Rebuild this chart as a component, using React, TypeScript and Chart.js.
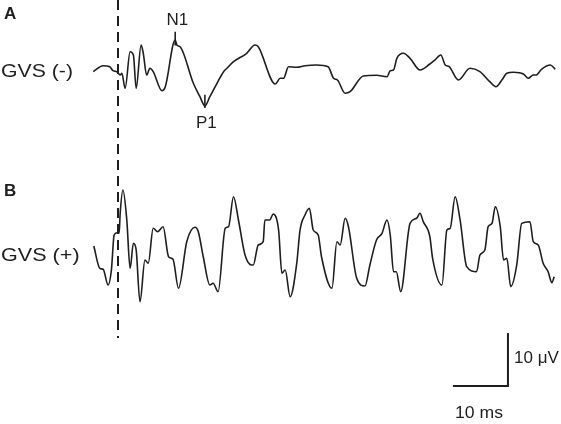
import React, { useEffect, useRef } from "react";
import { Chart, registerables } from "chart.js";

Chart.register(...registerables);

// Trace A: GVS (-) — time (ms, 0 = stimulus) and amplitude (µV, plotted upward)
const gvsNegTime = [
  -4.5, -2.7, -1.5, -0.9, -0.2, 0.4, 0.7, 1.3, 2.2, 2.8,
  3.3, 4.2, 4.6, 5.2, 5.8, 6.4, 8.0, 8.6, 10.4, 10.7,
  11.3, 13.7, 14.9, 15.8, 16.7, 18.0, 19.2, 19.8, 21.0, 23.4,
  24.9, 25.5, 28.6, 29.5, 30.1, 31.0, 32.5, 34.0, 36.1, 38.2,
  39.2, 39.9, 41.3, 42.2, 44.6, 47.0, 48.9, 49.5, 50.1, 50.7,
  51.9, 53.1, 54.9, 56.7, 57.6, 58.7, 59.5, 60.2, 61.9, 64.0,
  65.8, 67.6, 68.7, 69.8, 70.7, 71.9, 73.7, 74.6, 75.5, 76.0,
  77.0, 78.6, 79.5,
];
const gvsNegAmp = [
  0.06, 1.19, 1.0, 0.25, 0.06, -0.57, -0.25, -3.08, 3.83, 3.21,
  -3.08, 5.09, 3.53, -0.57, 0.7, 0.06, -3.53, -2.77, 6.04, 5.09,
  4.77, -2.13, -4.66, -6.42, -4.66, -2.13, 0.06, 0.7, 1.94, 3.53,
  5.09, 4.77, -2.26, -1.19, -1.19, 1.0, 0.89, 1.19, 1.32, 1.0,
  -1.19, -1.51, -4.02, -3.72, -0.75, -0.62, -0.89, 0.25, 0.38, 2.58,
  3.53, 2.58, 0.38, 1.51, 2.26, 3.21, 1.32, 1.0, -1.51, 0.7,
  0.06, -1.83, -2.77, -1.51, -0.25, -0.06, -0.38, -1.19, -0.57, -0.57,
  0.51, 1.32, 0.51,
];

// Trace B: GVS (+)
const gvsPosTime = [
  -4.4, -3.3, -2.7, -1.8, -1.2, -0.7, -0.2, 0.2, 0.4, 0.9,
  1.6, 2.2, 2.8, 3.3, 4.0, 4.9, 5.5, 6.4, 7.2, 8.2,
  9.2, 10.0, 11.0, 12.5, 14.0, 14.6, 15.5, 16.7, 17.3, 18.2,
  19.5, 20.1, 21.0, 21.9, 23.1, 24.3, 24.6, 25.5, 26.4, 26.7,
  27.6, 28.2, 29.2, 29.8, 30.4, 31.3, 32.5, 33.1, 34.0, 34.8,
  35.5, 36.4, 37.0, 38.9, 39.8, 40.4, 41.3, 41.9, 43.4, 44.9,
  45.8, 47.0, 48.0, 48.9, 49.5, 50.1, 50.6, 51.4, 53.1, 54.3,
  54.9, 55.5, 56.7, 57.2, 58.9, 59.8, 60.4, 61.3, 62.2, 63.4,
  65.2, 65.8, 66.7, 67.3, 68.0, 68.6, 69.5, 70.1, 70.7, 71.4,
  72.5, 73.4, 74.9, 75.5, 76.4, 77.3, 78.2, 78.9, 79.3,
];
const gvsPosAmp = [
  -0.19, -4.4, -4.58, -7.55, -4.72, 1.89, 2.32, 2.21, 6.04, 10.38,
  4.72, -4.4, 0.32, -0.94, -10.7, -2.83, -3.45, 3.15, 2.51, 3.45,
  -2.21, -2.7, -8.17, 0.62, 3.34, 2.51, -2.21, -7.55, -7.23, -8.81,
  3.15, 3.45, 9.11, 4.72, -1.89, -3.77, -3.77, 0, 0.62, 4.72,
  4.72, 5.85, 2.83, -5.34, -4.72, -9.75, -3.45, 2.83, 5.66, 6.92,
  2.83, 1.89, -2.21, -8.17, 0.62, 0, 5.04, 3.45, -6.28, -7.74,
  -3.77, 0.94, 2.21, 4.72, 1.89, -5.04, -5.04, -8.81, 4.09, 5.04,
  5.98, 4.4, 1.57, -2.51, -7.55, 2.83, 3.15, 9.11, 4.72, -4.09,
  -5.04, -1.89, -0.94, 3.45, 4.09, 7.23, 3.45, -2.83, -2.51, -7.87,
  -3.77, 4.09, 4.4, 0.62, 0, -3.45, -5.04, -7.11, -5.98,
];

// Component markers on trace A (N1, P1): time and tick extent in µV
const markerNames = ["N1", "P1"];
const markerTime = [10.4, 15.8];
const markerTop = [7.6, -4.3];
const markerBottom = [5.0, -6.8];

// Scale bar values
const scaleBarMs = 10;
const scaleBarUv = 10;

const PX_PER_MS = 5.5;
const PX_PER_UV = 5.3;
const W = 561;
const H = 424;
const X0_PX = 118;
const X_MIN = -X0_PX / PX_PER_MS;
const X_MAX = X_MIN + W / PX_PER_MS;
const Y_MAX = 0;
const Y_MIN = -H / PX_PER_UV;
const OFFSET_A = -72 / PX_PER_UV;
const OFFSET_B = -245 / PX_PER_UV;
const DASH_END = -338 / PX_PER_UV;
const BAR_X = 60.9;
const BAR_Y = -386 / PX_PER_UV;

const INK = "#1e1e1e";

function Label(props: {
  left: number;
  capTop: number;
  size: number;
  text: string;
  bold?: boolean;
  sx?: number;
}) {
  const { left, capTop, size, text, bold, sx = 1 } = props;
  return (
    <div
      style={{
        position: "absolute",
        left,
        top: capTop - 0.12 * size,
        fontSize: size,
        lineHeight: 1,
        fontWeight: bold ? 700 : 400,
        whiteSpace: "nowrap",
        transform: `scaleX(${sx})`,
        transformOrigin: "left top",
      }}
    >
      {text}
    </div>
  );
}

export default function App() {
  const ref = useRef<HTMLCanvasElement | null>(null);

  useEffect(() => {
    if (!ref.current) return;
    const traceA = gvsNegTime.map((t, i) => ({ x: t, y: gvsNegAmp[i] + OFFSET_A }));
    const traceB = gvsPosTime.map((t, i) => ({ x: t, y: gvsPosAmp[i] + OFFSET_B }));
    const line = (data: { x: number; y: number }[], width: number, dash: number[] = []) => ({
      data,
      borderColor: INK,
      borderWidth: width,
      borderDash: dash,
      pointRadius: 0,
      fill: false,
      tension: 0,
      showLine: true,
    });
    const markerSets = markerNames.map((_, i) =>
      line(
        [
          { x: markerTime[i], y: markerTop[i] + OFFSET_A },
          { x: markerTime[i], y: markerBottom[i] + OFFSET_A },
        ],
        1.6
      )
    );
    const chart = new Chart(ref.current, {
      type: "line",
      data: {
        datasets: [
          line(
            [
              { x: 0, y: Y_MAX },
              { x: 0, y: DASH_END },
            ],
            2,
            [10, 6]
          ),
          { ...line(traceA, 1.6), cubicInterpolationMode: "monotone" },
          { ...line(traceB, 1.6), cubicInterpolationMode: "monotone" },
          ...markerSets,
          line(
            [
              { x: BAR_X, y: BAR_Y },
              { x: BAR_X + scaleBarMs, y: BAR_Y },
              { x: BAR_X + scaleBarMs, y: BAR_Y + scaleBarUv },
            ],
            2
          ),
        ] as any,
      },
      options: {
        responsive: false,
        animation: false,
        events: [],
        layout: { padding: 0 },
        plugins: { legend: { display: false }, tooltip: { enabled: false } },
        scales: {
          x: { type: "linear", display: false, min: X_MIN, max: X_MAX },
          y: { type: "linear", display: false, min: Y_MIN, max: Y_MAX },
        },
      },
    });
    return () => chart.destroy();
  }, []);

  return (
    <div
      style={{
        position: "absolute",
        left: 0,
        top: 0,
        width: W,
        height: H,
        background: "#fff",
        color: INK,
        fontFamily: '"Liberation Sans", Arial, sans-serif',
      }}
    >
      <canvas ref={ref} width={W} height={H} style={{ position: "absolute", left: 0, top: 0 }} />
      <Label left={4} capTop={7} size={17} bold text="A" />
      <Label left={4} capTop={184} size={17} bold text="B" />
      <Label left={1} capTop={64} size={18} sx={1.18} text="GVS (-)" />
      <Label left={1} capTop={248} size={18} sx={1.2} text="GVS (+)" />
      <Label left={166.5} capTop={13.5} size={17} text={markerNames[0]} />
      <Label left={196} capTop={116} size={17} text={markerNames[1]} />
      <Label left={514} capTop={351.5} size={17} text={`${scaleBarUv} μV`} />
      <Label left={455} capTop={407} size={16} sx={1.1} text={`${scaleBarMs} ms`} />
    </div>
  );
}
